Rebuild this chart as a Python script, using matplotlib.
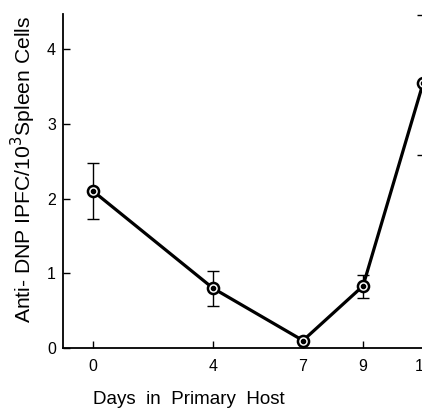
import matplotlib
matplotlib.use("Agg")
import matplotlib.pyplot as plt

plt.rcParams['font.family'] = ['Liberation Sans', 'DejaVu Sans']

days = [0, 4, 7, 9, 11]
ipfc = [2.10, 0.80, 0.10, 0.83, 3.54]
err_lo = [0.37, 0.24, 0.0, 0.16, 0.96]
err_hi = [0.38, 0.23, 0.0, 0.15, 0.92]
xticks = [0, 4, 7, 9, 11]
xticklabels = ['0', '4', '7', '9', '11']
yticks = [0, 1, 2, 3, 4]

fig = plt.figure(figsize=(4.22, 4.16), dpi=100)
ax = fig.add_axes([63/422, 68/416, 390/422, 334/416])

ax.errorbar(days, ipfc, yerr=[err_lo, err_hi], fmt='none', ecolor='black',
            elinewidth=1.0, capsize=4, capthick=1.0, zorder=2)
ax.plot(days, ipfc, color='black', lw=2.3, zorder=3)
ax.plot(days, ipfc, 'o', ms=8, mfc='white', mec='black', mew=1.8, zorder=4)
ax.plot(days, ipfc, 'o', ms=3, color='black', zorder=5)

ax.set_xlim(-1, 12)
ax.set_ylim(0, 4.47)
ax.set_xticks(xticks)
ax.set_xticklabels(xticklabels)
ax.set_yticks(yticks)
ax.tick_params(direction='in', length=5, width=1, labelsize=11.5, pad=8)
ax.tick_params(axis='y', pad=5)
for s in ['top', 'right']:
    ax.spines[s].set_visible(False)
for s in ['left', 'bottom']:
    ax.spines[s].set_linewidth(1.3)

ax.set_ylabel('Anti- DNP IPFC/10$^3$Spleen Cells', fontsize=15.2)
ax.yaxis.set_label_coords(-0.064, 0.535)
fig.text(189/422, 1 - 400/416, 'Days  in  Primary  Host', fontsize=13.5,
         ha='center', va='center')

fig.savefig('out.png', dpi=100)
